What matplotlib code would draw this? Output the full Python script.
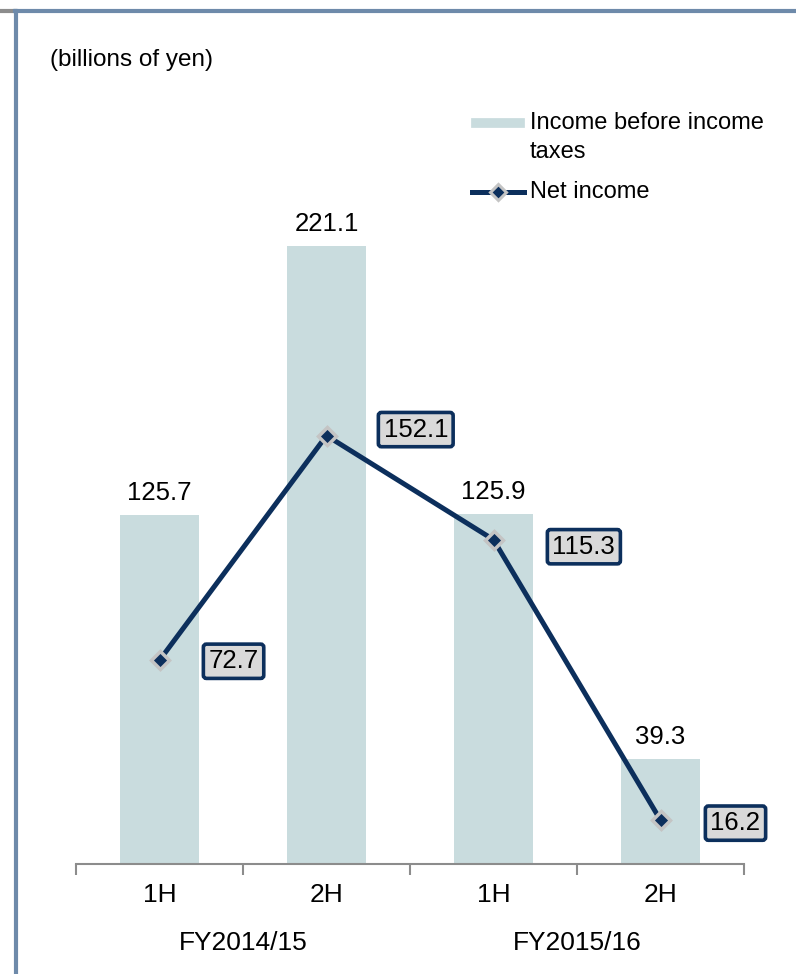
import matplotlib.pyplot as plt
from matplotlib.lines import Line2D

plt.rcParams["font.family"] = ["Liberation Sans", "DejaVu Sans"]

# data
halves = ["1H", "2H", "1H", "2H"]
fiscal_years = ["FY2014/15", "FY2015/16"]
income_before_tax = [125.7, 221.1, 125.9, 39.3]
net_income = [72.7, 152.1, 115.3, 16.2]

# where each net income box sits relative to its point (pixels)
label_offsets = [(49, -1), (57, 6), (59, -7), (50, -3)]

bar_color = "#c9dcde"
navy = "#0c2f5c"
frame_color = "#6e8aaa"
axis_gray = "#8c8c8c"

fig = plt.figure(figsize=(7.96, 9.74), dpi=100)
ax = fig.add_axes([76 / 796, 1 - 864 / 974, 668 / 796, 824 / 974])

x = list(range(len(halves)))

# bars
ax.bar(x, income_before_tax, width=0.47, color=bar_color, zorder=1)
for xi, v in zip(x, income_before_tax):
    ax.annotate(f"{v:.1f}", (xi, v), xytext=(0, 10), textcoords="offset pixels",
                ha="center", va="bottom", fontsize=18.5)

ax.set_xlim(-0.5, len(halves) - 0.5)
ax.set_ylim(2.1, 293.9)

# line on its own scale
ax2 = ax.twinx()
ax2.plot(x, net_income, color=navy, lw=3.6, marker="D", markersize=9,
         markerfacecolor=navy, markeredgecolor="#c4c4c4", markeredgewidth=2.5,
         zorder=3)
for (xi, v), (dx, dy) in zip(zip(x, net_income), label_offsets):
    ax2.annotate(f"{v:.1f}", (xi, v), xytext=(dx, dy), textcoords="offset pixels",
                 ha="left", va="center", fontsize=18.5,
                 bbox=dict(boxstyle="round,pad=0.2,rounding_size=0.12",
                           facecolor="#d9d9d9", edgecolor=navy, linewidth=2.6))
ax2.set_ylim(0.7, 291.9)
ax2.set_yticks([])

# axes styling
for a in (ax, ax2):
    for side in ["top", "right", "left"]:
        a.spines[side].set_visible(False)
ax2.spines["bottom"].set_visible(False)
ax.spines["bottom"].set_color(axis_gray)
ax.spines["bottom"].set_linewidth(1.5)
ax.set_yticks([])
ax.set_xticks([i - 0.5 for i in range(len(halves) + 1)])
ax.set_xticklabels([])
ax.tick_params(axis="x", direction="out", length=8, width=1.5, color=axis_gray)

# category labels
for xi, lab in zip(x, halves):
    ax.text(xi, -0.038, lab, transform=ax.get_xaxis_transform(),
            ha="center", va="center", fontsize=19)
for i, fy in enumerate(fiscal_years):
    ax.text(2 * i + 0.5, -0.096, fy, transform=ax.get_xaxis_transform(),
            ha="center", va="center", fontsize=19)

# unit label
fig.text(50 / 796, 1 - 60 / 974, "(billions of yen)", ha="left", va="center",
         fontsize=17.5)

# legend drawn by hand
fig.add_artist(Line2D([476 / 796, 520 / 796], [1 - 123 / 974] * 2,
                      transform=fig.transFigure, color=bar_color, lw=7))
fig.text(530 / 796, 1 - 123 / 974, "Income before income", ha="left",
         va="center", fontsize=17)
fig.text(530 / 796, 1 - 152 / 974, "taxes", ha="left", va="center",
         fontsize=17)
fig.add_artist(Line2D([472 / 796, 524 / 796], [1 - 192 / 974] * 2,
                      transform=fig.transFigure, color=navy, lw=3.6))
fig.add_artist(Line2D([498 / 796], [1 - 192 / 974], transform=fig.transFigure,
                      marker="D", markersize=8, markerfacecolor=navy,
                      markeredgecolor="#c4c4c4", markeredgewidth=2.2))
fig.text(530 / 796, 1 - 192 / 974, "Net income", ha="left", va="center",
         fontsize=17)

# slide frame lines
fig.add_artist(Line2D([0, 15 / 796], [1 - 11 / 974] * 2,
                      transform=fig.transFigure, color=axis_gray, lw=3))
fig.add_artist(Line2D([15 / 796, 1], [1 - 11 / 974] * 2,
                      transform=fig.transFigure, color=frame_color, lw=3))
fig.add_artist(Line2D([16 / 796] * 2, [0, 1 - 11 / 974],
                      transform=fig.transFigure, color=frame_color, lw=3))

fig.savefig("out.png", dpi=100)
